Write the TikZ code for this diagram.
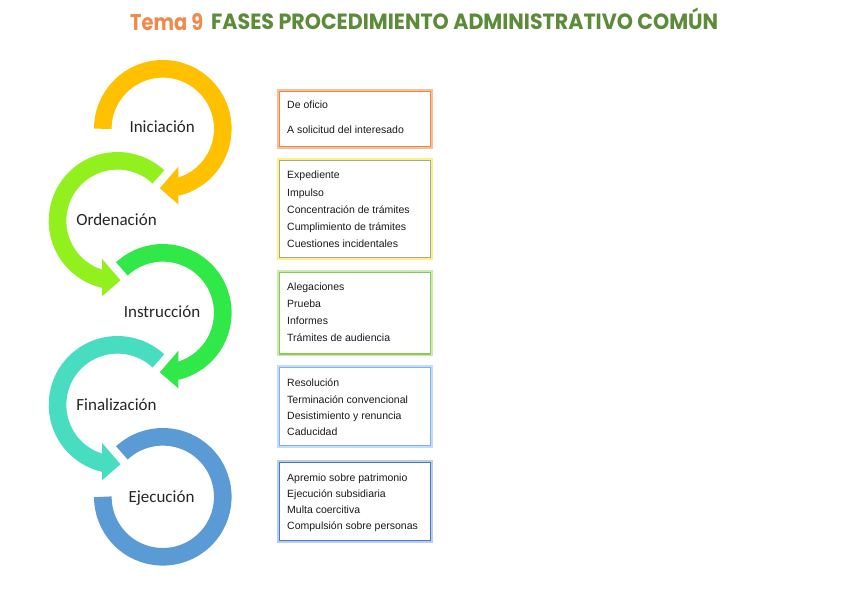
\documentclass[tikz,border=0pt]{standalone}
\usepackage{fontspec}
\setmainfont{Liberation Sans}
\newfontfamily\labelfont{Carlito}
\newfontfamily\titlefont{Poppins}
\definecolor{cOrange}{RGB}{255,192,0}
\definecolor{cLime}{RGB}{146,240,30}
\definecolor{cGreen}{RGB}{48,232,72}
\definecolor{cTeal}{RGB}{72,221,192}
\definecolor{cBlue}{RGB}{91,155,213}
\definecolor{labelGray}{RGB}{38,38,38}
\definecolor{boxText}{RGB}{26,26,26}
\definecolor{titleOr}{RGB}{240,138,75}
\definecolor{titleGr}{RGB}{92,140,58}
\definecolor{b1line}{RGB}{240,135,74}\definecolor{b1glow}{RGB}{248,192,154}
\definecolor{b2line}{RGB}{165,165,165}\definecolor{b2glow}{RGB}{255,242,122}
\definecolor{b3line}{RGB}{141,200,92}\definecolor{b3glow}{RGB}{201,235,174}
\definecolor{b4line}{RGB}{127,179,234}\definecolor{b4glow}{RGB}{195,221,248}
\definecolor{b5line}{RGB}{74,120,200}\definecolor{b5glow}{RGB}{185,205,238}
\begin{document}
\begin{tikzpicture}[x=1pt,y=1pt]
\tikzset{
 ring/.style={line width=17.6pt, line cap=butt},
 lbl/.style={font=\labelfont\fontsize{17}{20}\selectfont, text=labelGray, anchor=base, inner sep=0pt},
 boxtxt/.style={font=\fontsize{10.5}{12}\selectfont, text=boxText, anchor=base west, inner sep=0pt},
 pbox/.style 2 args={draw=#1, fill=white, line width=1.3pt, anchor=north west, inner sep=0pt,
   minimum width=151pt, preaction={draw=#2, line width=5pt}},
}
\useasboundingbox[fill=white] (0,0) rectangle (848,-599);

% title
\node[anchor=base west, inner sep=0pt, text=titleOr] (t1) at (130,-31) {\resizebox{73pt}{17pt}{\titlefont\bfseries Tema 9}};
\node[anchor=base west, inner sep=0pt, text=titleGr] (t2) at (211,-30) {\resizebox{507pt}{21.5pt}{\titlefont\bfseries FASES PROCEDIMIENTO ADMINISTRATIVO COMÚN}};

% rings
\coordinate (c1) at (162.8,-128.8);
\coordinate (c2) at (117.5,-220.8);
\coordinate (c3) at (162.8,-312.8);
\coordinate (c4) at (117.5,-404.8);
\coordinate (c5) at (162.8,-496.8);

\draw[ring, draw=cOrange] (c1) ++(180:60) arc[start angle=180, end angle=-77, radius=60];
\fill[cOrange, shift={(c1)}] (15.5,-38) -- (15.5,-75.5) -- (-3,-59.5) -- cycle;

\draw[ring, draw=cLime] (c2) ++(47:60) arc[start angle=47, end angle=257, radius=60];
\fill[cLime, shift={(c2)}] (-15.5,-38) -- (-15.5,-75.5) -- (3,-59.5) -- cycle;

\draw[ring, draw=cGreen] (c3) ++(133:60) arc[start angle=133, end angle=-77, radius=60];
\fill[cGreen, shift={(c3)}] (15.5,-38) -- (15.5,-75.5) -- (-3,-59.5) -- cycle;

\draw[ring, draw=cTeal] (c4) ++(47:60) arc[start angle=47, end angle=257, radius=60];
\fill[cTeal, shift={(c4)}] (-15.5,-38) -- (-15.5,-75.5) -- (3,-59.5) -- cycle;

\draw[ring, draw=cBlue] (c5) ++(133:60) arc[start angle=133, end angle=-180, radius=60];

% labels
\node[lbl] (l1) at (162.2,-132.3) {Iniciación};
\node[lbl] (l2) at (116.5,-225.3) {Ordenación};
\node[lbl] (l3) at (162,-317.3) {Instrucción};
\node[lbl] (l4) at (116.5,-410.3) {Finalización};
\node[lbl] (l5) at (161.5,-502.3) {Ejecución};

% boxes
\node[pbox={b1line}{b1glow}, minimum height=54.5pt] (b1) at (279,-91) {};
\node[pbox={b2line}{b2glow}, minimum height=96.7pt] (b2) at (279,-160) {};
\node[pbox={b3line}{b3glow}, minimum height=81.6pt] (b3) at (279,-271.7) {};
\node[pbox={b4line}{b4glow}, minimum height=78.3pt] (b4) at (279,-366.7) {};
\node[pbox={b5line}{b5glow}, minimum height=78.3pt] (b5) at (279,-461.7) {};

% box texts
\node[boxtxt] (b1a) at (287,-108.8) {De oficio};
\node[boxtxt] (b1b) at (287,-133.8) {A solicitud del interesado};

\node[boxtxt] (b2a) at (287,-178.8) {Expediente};
\node[boxtxt] (b2b) at (287,-196.1) {Impulso};
\node[boxtxt] (b2c) at (287,-213.3) {Concentración de trámites};
\node[boxtxt] (b2d) at (287,-230.5) {Cumplimiento de trámites};
\node[boxtxt] (b2e) at (287,-247.8) {Cuestiones incidentales};

\node[boxtxt] (b3a) at (287,-290.5) {Alegaciones};
\node[boxtxt] (b3b) at (287,-307.3) {Prueba};
\node[boxtxt] (b3c) at (287,-324.1) {Informes};
\node[boxtxt] (b3d) at (287,-341.1) {Trámites de audiencia};

\node[boxtxt] (b4a) at (287,-386.5) {Resolución};
\node[boxtxt] (b4b) at (287,-403.1) {Terminación convencional};
\node[boxtxt] (b4c) at (287,-419.3) {Desistimiento y renuncia};
\node[boxtxt] (b4d) at (287,-435.5) {Caducidad};

\node[boxtxt] (b5a) at (287,-481.1) {Apremio sobre patrimonio};
\node[boxtxt] (b5b) at (287,-497.4) {Ejecución subsidiaria};
\node[boxtxt] (b5c) at (287,-513.6) {Multa coercitiva};
\node[boxtxt] (b5d) at (287,-529.8) {Compulsión sobre personas};
\end{tikzpicture}
\end{document}
